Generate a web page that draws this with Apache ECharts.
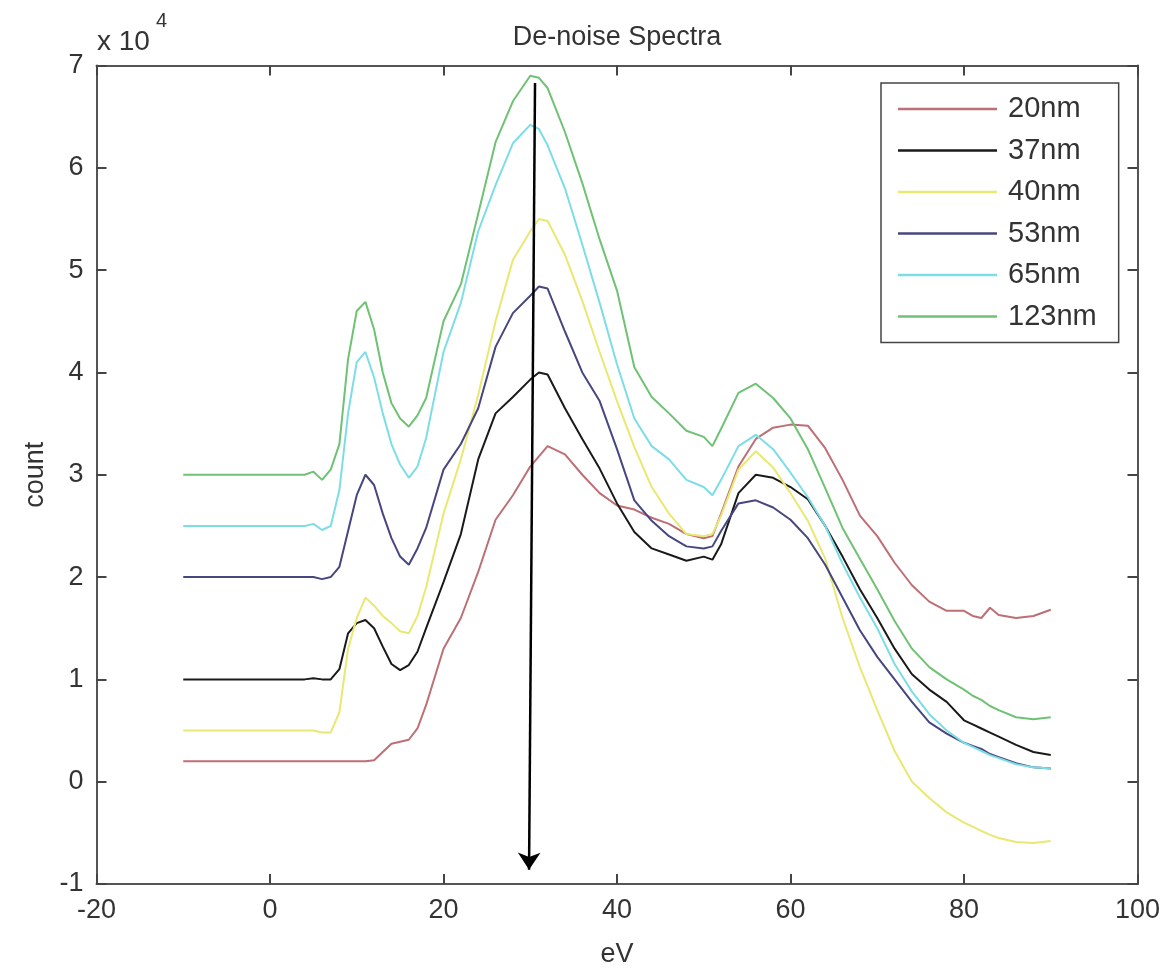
<!DOCTYPE html>
<html><head><meta charset="utf-8">
<script src="https://cdn.jsdelivr.net/npm/echarts@6/dist/echarts.min.js"></script>
<style>html,body{margin:0;padding:0;background:#fff}#c{width:1172px;height:973px}</style>
</head><body><div id="c"></div>
<script>
// eV sample positions shared by all spectra
const eV = [-10, 4, 5, 6, 7, 8, 9, 10, 11, 12, 13, 14, 15, 16, 17, 18,
  20, 22, 24, 26, 28, 30, 31, 32, 34, 36, 38, 40, 42, 44, 46, 48,
  50, 51, 52, 54, 56, 58, 60, 62, 64, 66, 68, 70, 72, 74, 76, 78,
  80, 81, 82, 83, 84, 86, 88, 90];
// counts in units of 1e4
const s20nm = [0.2, 0.2, 0.2, 0.2, 0.2, 0.2, 0.2, 0.2, 0.2, 0.21, 0.29, 0.37, 0.39, 0.41, 0.52, 0.75,
  1.3, 1.6, 2.05, 2.56, 2.8, 3.08, 3.18, 3.28, 3.2, 3.0, 2.82, 2.7, 2.66, 2.58, 2.52, 2.42,
  2.38, 2.4, 2.62, 3.08, 3.35, 3.46, 3.49, 3.48, 3.26, 2.95, 2.6, 2.4, 2.14, 1.92, 1.76, 1.67,
  1.67, 1.62, 1.6, 1.7, 1.63, 1.6, 1.62, 1.68];
const s37nm = [1.0, 1.0, 1.01, 1.0, 1.0, 1.1, 1.45, 1.55, 1.58, 1.5, 1.32, 1.15, 1.09, 1.14, 1.27, 1.5,
  1.95, 2.42, 3.15, 3.6, 3.76, 3.93, 4.0, 3.98, 3.65, 3.35, 3.06, 2.72, 2.44, 2.28, 2.22, 2.16,
  2.2, 2.17, 2.32, 2.82, 3.0, 2.97, 2.88, 2.76, 2.5, 2.2, 1.88, 1.6, 1.3, 1.05, 0.9, 0.78,
  0.6, 0.56, 0.52, 0.48, 0.44, 0.36, 0.29, 0.26];
const s40nm = [0.5, 0.5, 0.5, 0.48, 0.48, 0.68, 1.3, 1.6, 1.8, 1.72, 1.62, 1.55, 1.47, 1.45, 1.62, 1.9,
  2.62, 3.15, 3.78, 4.5, 5.1, 5.38, 5.5, 5.48, 5.15, 4.7, 4.2, 3.72, 3.27, 2.88, 2.62, 2.42,
  2.4, 2.42, 2.6, 3.05, 3.23, 3.07, 2.82, 2.55, 2.18, 1.6, 1.12, 0.7, 0.3, 0.0, -0.16, -0.3,
  -0.4, -0.44, -0.48, -0.52, -0.55, -0.59, -0.6, -0.58];
const s53nm = [2.0, 2.0, 2.0, 1.98, 2.0, 2.1, 2.45, 2.8, 3.0, 2.9, 2.62, 2.38, 2.2, 2.12, 2.28, 2.48,
  3.05, 3.3, 3.65, 4.25, 4.58, 4.75, 4.84, 4.82, 4.4, 4.0, 3.72, 3.25, 2.75, 2.55, 2.4, 2.3,
  2.28, 2.3, 2.45, 2.72, 2.75, 2.68, 2.56, 2.38, 2.12, 1.8, 1.48, 1.22, 1.0, 0.78, 0.58, 0.47,
  0.38, 0.35, 0.32, 0.27, 0.24, 0.18, 0.14, 0.13];
const s65nm = [2.5, 2.5, 2.52, 2.46, 2.5, 2.85, 3.6, 4.1, 4.2, 3.95, 3.6, 3.3, 3.1, 2.97, 3.08, 3.36,
  4.2, 4.68, 5.38, 5.83, 6.24, 6.42, 6.38, 6.22, 5.8, 5.25, 4.68, 4.08, 3.55, 3.28, 3.15, 2.95,
  2.88, 2.8, 2.95, 3.28, 3.39, 3.25, 3.02, 2.78, 2.5, 2.13, 1.8, 1.5, 1.15, 0.88, 0.66, 0.5,
  0.38, 0.34, 0.3, 0.26, 0.23, 0.17, 0.14, 0.13];
const s123nm = [3.0, 3.0, 3.03, 2.95, 3.05, 3.3, 4.13, 4.6, 4.69, 4.42, 4.0, 3.7, 3.55, 3.47, 3.58, 3.75,
  4.5, 4.86, 5.55, 6.25, 6.65, 6.9, 6.88, 6.78, 6.35, 5.85, 5.3, 4.8, 4.05, 3.76, 3.6, 3.43,
  3.37, 3.28, 3.45, 3.8, 3.89, 3.75, 3.55, 3.25, 2.87, 2.48, 2.18, 1.88, 1.57, 1.3, 1.12, 1.0,
  0.9, 0.84, 0.8, 0.74, 0.7, 0.63, 0.61, 0.63];
const seriesNames = ['20nm', '37nm', '40nm', '53nm', '65nm', '123nm'];
const seriesValues = [s20nm, s37nm, s40nm, s53nm, s65nm, s123nm];
const seriesColors = ['#bd6f76', '#1a1a1a', '#e8e872', '#474780', '#7ddde6', '#6fc274'];
// annotation arrow (eV, count/1e4)
const arrowStart = [30.55, 6.83];
const arrowEnd = [29.86, -0.86];

const FONT = '"Liberation Sans", Arial, sans-serif';
const TXT = '#333';
const AX = '#555';

const chart = echarts.init(document.getElementById('c'), null, {renderer: 'canvas'});

function axisCommon(min, max, interval, showLabel) {
  return {
    type: 'value', min: min, max: max, interval: interval,
    axisLine: {show: true, onZero: false, lineStyle: {color: AX, width: 2}},
    axisTick: {show: true, inside: true, length: 10, lineStyle: {color: '#444', width: 2}},
    axisLabel: {show: showLabel, fontSize: 27, color: TXT, fontFamily: FONT, margin: 13},
    splitLine: {show: false}
  };
}

const series = seriesNames.map((n, k) => ({
  name: n, type: 'line', symbol: 'none', showSymbol: false,
  data: eV.map((x, i) => [x, seriesValues[k][i]]),
  lineStyle: {color: seriesColors[k], width: 2},
  itemStyle: {color: seriesColors[k]},
  z: 2
}));
series.push({
  name: 'arrow', type: 'line', data: [], symbol: 'none',
  markLine: {
    silent: true, animation: false,
    symbol: ['none', 'arrow'], symbolSize: 17,
    lineStyle: {color: '#000', width: 2.5, type: 'solid'},
    label: {show: false},
    data: [[{coord: arrowStart}, {coord: arrowEnd}]]
  },
  z: 5
});

const option = {
  animation: false,
  backgroundColor: '#fff',
  grid: {left: 96.5, top: 65.5, right: 34.5, bottom: 85, containLabel: false},
  xAxis: [
    Object.assign(axisCommon(-20, 100, 20, true), {position: 'bottom', name: 'eV', nameLocation: 'middle', nameGap: 57,
      nameTextStyle: {fontSize: 27, color: TXT, fontFamily: FONT}}),
    Object.assign(axisCommon(-20, 100, 20, false), {position: 'top'})
  ],
  yAxis: [
    Object.assign(axisCommon(-1, 7, 1, true), {position: 'left', name: 'count', nameLocation: 'middle', nameGap: 36,
      nameTextStyle: {fontSize: 27, color: TXT, fontFamily: FONT}}),
    Object.assign(axisCommon(-1, 7, 1, false), {position: 'right'})
  ],
  legend: {
    data: seriesNames.map(n => ({name: n, icon: 'rect'})),
    orient: 'vertical', left: 881, top: 83,
    backgroundColor: '#fff', borderColor: '#444', borderWidth: 1.5,
    padding: [11, 22, 11, 17],
    itemWidth: 99, itemHeight: 2.5, itemGap: 11.5,
    textStyle: {fontSize: 29, color: TXT, fontFamily: FONT, lineHeight: 30, padding: [0, 0, 0, 6]}
  },
  graphic: [
    {type: 'text', x: 617, y: 38, style: {text: 'De-noise Spectra', font: '27px ' + FONT, fill: TXT, textAlign: 'center', textVerticalAlign: 'middle'}},
    {type: 'text', x: 97, y: 42, style: {text: 'x 10', font: '28px ' + FONT, fill: TXT, textAlign: 'left', textVerticalAlign: 'middle'}},
    {type: 'text', x: 156, y: 21, style: {text: '4', font: '20px ' + FONT, fill: TXT, textAlign: 'left', textVerticalAlign: 'middle'}}
  ],
  series: series
};
chart.setOption(option);
</script>
</body></html>
